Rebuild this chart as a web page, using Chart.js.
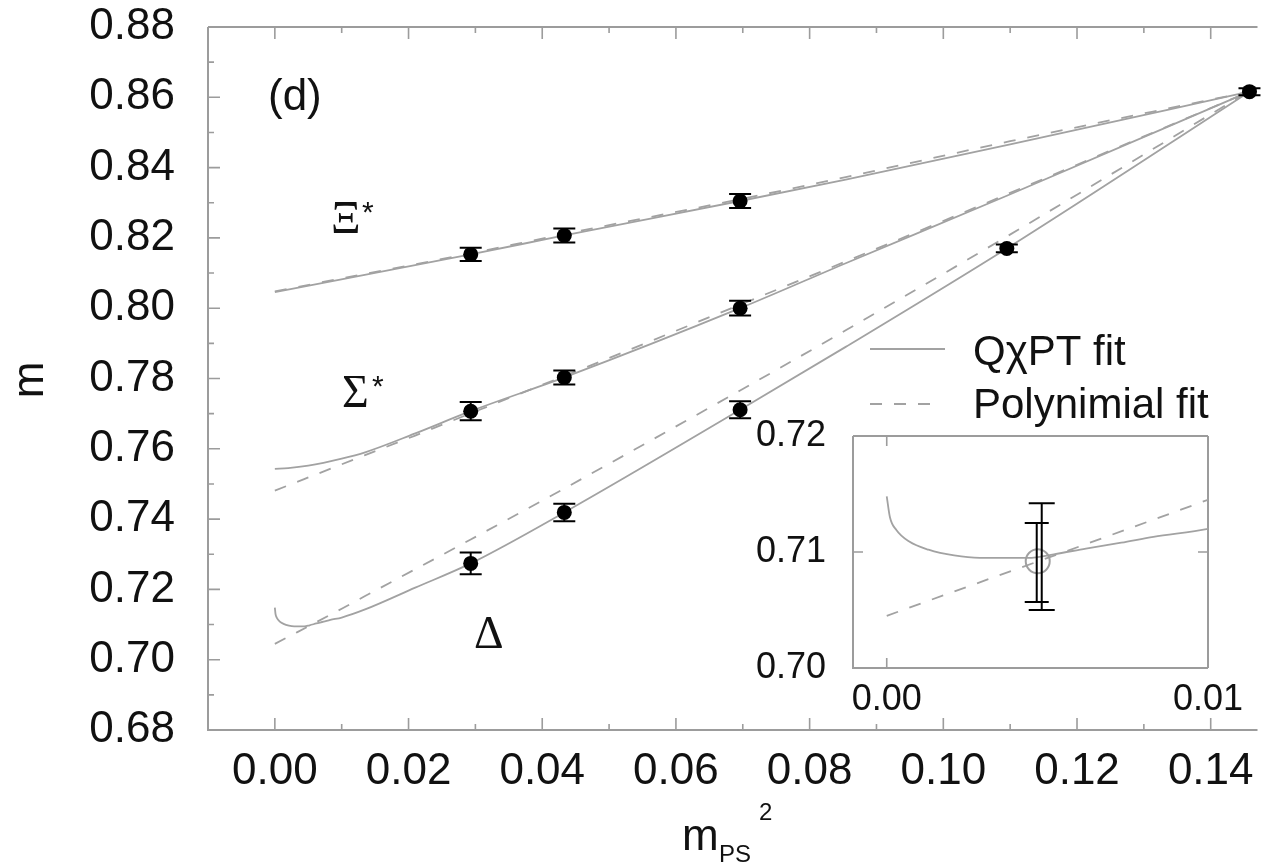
<!DOCTYPE html>
<html>
<head>
<meta charset="utf-8">
<script src="https://cdn.jsdelivr.net/npm/chart.js@4.4.0/dist/chart.umd.min.js"></script>
<style>
  html, body { margin: 0; padding: 0; background: #fff; }
  #wrap { position: relative; width: 1265px; height: 868px; overflow: hidden; }
  #main { position: absolute; left: 0; top: 0; }
  #inset { position: absolute; left: 740px; top: 400px; }
</style>
</head>
<body>
<div id="wrap">
  <canvas id="main" width="1265" height="868"></canvas>
  <canvas id="inset" width="540" height="330"></canvas>
</div>
<script>
// axis ticks
const xTicks = [0.00, 0.02, 0.04, 0.06, 0.08, 0.10, 0.12, 0.14];
const yTicks = [0.68, 0.70, 0.72, 0.74, 0.76, 0.78, 0.80, 0.82, 0.84, 0.86, 0.88];
const insetXTicks = [0.00, 0.01];
const insetYTicks = [0.70, 0.71, 0.72];

// lattice data (m_PS^2, mass, error)
const mps2 = [0.0293, 0.0433, 0.0696];
const xiStar = [0.8153, 0.8207, 0.8305];
const xiStarErr = [0.0019, 0.0020, 0.0020];
const sigmaStar = [0.7707, 0.7803, 0.8000];
const sigmaStarErr = [0.0026, 0.0020, 0.0021];
const deltaX = [0.0293, 0.0433, 0.0696, 0.1095];
const delta = [0.7274, 0.7419, 0.7711, 0.8170];
const deltaErr = [0.0031, 0.0025, 0.0024, 0.0011];
const symX = [0.1458];
const sym = [0.8616];
const symErr = [0.0010];

// fit curves
const xiFitX = [0.0, 0.0293, 0.0433, 0.0696, 0.0854, 0.1100, 0.1458];
const xiQchpt = [0.8046, 0.8153, 0.8207, 0.8305, 0.8366, 0.8466, 0.8616];
const xiPoly = [0.8048, 0.8156, 0.8211, 0.8310, 0.8373, 0.8475, 0.8616];

const sigmaQchptX = [0.0, 0.002, 0.005, 0.010, 0.0135, 0.0209, 0.0293, 0.0433, 0.0696, 0.0854, 0.1095, 0.1458];
const sigmaQchpt = [0.7543, 0.7545, 0.7552, 0.7572, 0.7590, 0.7643, 0.7707, 0.7803, 0.8000, 0.8128, 0.8320, 0.8616];
const sigmaPolyX = [0.0, 0.0135, 0.0209, 0.0293, 0.0433, 0.0696, 0.0854, 0.1095, 0.1458];
const sigmaPoly = [0.7481, 0.7582, 0.7637, 0.7701, 0.7807, 0.8010, 0.8133, 0.8324, 0.8616];

const deltaQchptX = [0.0, 0.0001, 0.0003, 0.0007, 0.0013, 0.0021, 0.0029, 0.0036, 0.0044, 0.0052, 0.0062, 0.0073, 0.0083, 0.0100, 0.0135, 0.0210, 0.0293, 0.0433, 0.0696, 0.0854, 0.1095, 0.1458];
const deltaQchpt = [0.7148, 0.7130, 0.7119, 0.7109, 0.7102, 0.7097, 0.7095, 0.7095, 0.7095, 0.7098, 0.7103, 0.7108, 0.7113, 0.7120, 0.7143, 0.7205, 0.7274, 0.7419, 0.7711, 0.7890, 0.8170, 0.8616];
const deltaPolyX = [0.0, 0.0100, 0.0135, 0.0293, 0.0433, 0.0696, 0.0854, 0.1095, 0.1458];
const deltaPoly = [0.7045, 0.7145, 0.7181, 0.7342, 0.7487, 0.7766, 0.7937, 0.8204, 0.8618];

// extrapolated Delta at the physical point (inset)
const physX = [0.0047];
const physDelta = [0.7092];
const physStatLo = [0.7057], physStatHi = [0.7125];
const physSysLo = [0.7050], physSysHi = [0.7142];

const SANS = "'Liberation Sans', Arial, Helvetica, sans-serif";
const SERIF = "'Liberation Serif', 'DejaVu Serif', serif";
const FRAME = '#9c9c9c';
const CURVE = '#a2a2a2';
const DASH = [12, 12];

const pts = (xs, ys) => xs.map((x, i) => ({ x: x, y: ys[i] }));
const lo = (ys, es) => ys.map((y, i) => y - es[i]);
const hi = (ys, es) => ys.map((y, i) => y + es[i]);

function curve(xs, ys, dashed) {
  return {
    data: pts(xs, ys),
    showLine: true,
    pointRadius: 0,
    borderColor: CURVE,
    borderWidth: 1.8,
    borderDash: dashed ? DASH : [],
    cubicInterpolationMode: 'monotone',
    fill: false
  };
}

function markers(xs, ys, es) {
  return {
    data: pts(xs, ys),
    showLine: false,
    pointRadius: 7.5,
    pointBackgroundColor: '#000',
    pointBorderColor: '#000',
    pointBorderWidth: 0,
    errBars: [{ lo: lo(ys, es), hi: hi(ys, es), dx: 0, cap: 11 }]
  };
}

const errorBarPlugin = {
  id: 'errorBars',
  afterDatasetsDraw(chart) {
    const { ctx } = chart;
    const xs = chart.scales.x, ys = chart.scales.y;
    ctx.save();
    ctx.strokeStyle = '#000';
    ctx.lineWidth = 2;
    chart.data.datasets.forEach(ds => {
      if (!ds.errBars) return;
      ds.data.forEach((p, j) => {
        ds.errBars.forEach(eb => {
          const px = xs.getPixelForValue(p.x) + eb.dx;
          const top = ys.getPixelForValue(eb.hi[j]);
          const bot = ys.getPixelForValue(eb.lo[j]);
          ctx.beginPath();
          ctx.moveTo(px, top); ctx.lineTo(px, bot);
          ctx.moveTo(px - eb.cap, top); ctx.lineTo(px + eb.cap, top);
          ctx.moveTo(px - eb.cap, bot); ctx.lineTo(px + eb.cap, bot);
          ctx.stroke();
        });
      });
    });
    ctx.restore();
  }
};

function framePlugin(opts) {
  return {
    id: 'frame',
    beforeDatasetsDraw(chart) {
      const { ctx, chartArea: a } = chart;
      const xs = chart.scales.x, ys = chart.scales.y;
      ctx.save();
      ctx.strokeStyle = FRAME;
      ctx.lineWidth = 2;
      ctx.beginPath();
      ctx.moveTo(a.left, a.top); ctx.lineTo(a.left, a.bottom); ctx.lineTo(a.right, a.bottom);
      ctx.moveTo(a.left, a.top); ctx.lineTo(a.right, a.top);
      if (opts.right) { ctx.moveTo(a.right, a.top); ctx.lineTo(a.right, a.bottom); }
      ctx.stroke();

      const xt = opts.xTicks.map(v => [v, opts.major]);
      const yt = opts.yTicks.map(v => [v, opts.major]);
      if (opts.minor) {
        for (let i = 0; i < opts.xTicks.length - 1; i++) xt.push([(opts.xTicks[i] + opts.xTicks[i + 1]) / 2, opts.minor]);
        xt.push([opts.xTicks[opts.xTicks.length - 1] + (opts.xTicks[1] - opts.xTicks[0]) / 2, opts.minor]);
        for (let i = 0; i < opts.yTicks.length - 1; i++) yt.push([(opts.yTicks[i] + opts.yTicks[i + 1]) / 2, opts.minor]);
      }
      ctx.lineWidth = 1.6;
      ctx.beginPath();
      xt.forEach(([v, len]) => {
        const px = xs.getPixelForValue(v);
        if (px < a.left || px > a.right) return;
        ctx.moveTo(px, a.bottom); ctx.lineTo(px, a.bottom - len);
        ctx.moveTo(px, a.top); ctx.lineTo(px, a.top + len);
      });
      yt.forEach(([v, len]) => {
        const py = ys.getPixelForValue(v);
        ctx.moveTo(a.left, py); ctx.lineTo(a.left + len, py);
        if (opts.right) { ctx.moveTo(a.right, py); ctx.lineTo(a.right - len, py); }
      });
      ctx.stroke();
      ctx.restore();
    }
  };
}

const textPlugin = {
  id: 'texts',
  afterDraw(chart) {
    const { ctx } = chart;
    ctx.save();
    ctx.fillStyle = '#111';
    ctx.textAlign = 'left';
    ctx.textBaseline = 'alphabetic';

    ctx.font = `44px ${SANS}`;
    ctx.fillText('(d)', 268, 110);

    ctx.font = `46px ${SERIF}`;
    ctx.fillText('\u039E', 331, 233);
    ctx.fillText('\u03A3', 342, 407);
    ctx.fillText('\u0394', 474, 648);
    ctx.font = `30px ${SANS}`;
    ctx.fillText('*', 362, 222);
    ctx.fillText('*', 372, 396);

    // legend
    ctx.strokeStyle = CURVE;
    ctx.lineWidth = 1.8;
    ctx.beginPath(); ctx.moveTo(870, 349); ctx.lineTo(945, 349); ctx.stroke();
    ctx.setLineDash(DASH);
    ctx.beginPath(); ctx.moveTo(870, 404); ctx.lineTo(940, 404); ctx.stroke();
    ctx.setLineDash([]);
    ctx.font = `42px ${SANS}`;
    ctx.fillText('Q\u03C7PT fit', 973, 365);
    ctx.fillText('Polynimial fit', 973, 418);

    // axis titles
    ctx.font = `44px ${SANS}`;
    ctx.fillText('m', 682, 850);
    ctx.font = `24px ${SANS}`;
    ctx.fillText('PS', 719, 862);
    ctx.fillText('2', 759, 820);

    ctx.translate(43, 380);
    ctx.rotate(-Math.PI / 2);
    ctx.textAlign = 'center';
    ctx.font = `44px ${SANS}`;
    ctx.fillText('m', 0, 0);
    ctx.restore();
  }
};

function axis(min, max, ticks, size, pad, fitSize, horizontal) {
  return {
    type: 'linear',
    min: min,
    max: max,
    grid: { display: false, drawTicks: false },
    border: { display: false },
    afterBuildTicks: s => { s.ticks = ticks.map(v => ({ value: v })); },
    afterFit: s => {
      if (horizontal) { s.height = fitSize; s.paddingLeft = 0; s.paddingRight = 0; }
      else { s.width = fitSize; s.paddingTop = 0; s.paddingBottom = 0; }
    },
    ticks: {
      font: { family: SANS, size: size },
      color: '#111',
      padding: pad,
      maxRotation: 0,
      autoSkip: false,
      callback: v => v.toFixed(2)
    }
  };
}

new Chart(document.getElementById('main'), {
  type: 'scatter',
  data: {
    datasets: [
      markers(mps2, xiStar, xiStarErr),
      markers(mps2, sigmaStar, sigmaStarErr),
      markers(deltaX, delta, deltaErr),
      markers(symX, sym, symErr),
      curve(xiFitX, xiQchpt, false),
      curve(xiFitX, xiPoly, true),
      curve(sigmaQchptX, sigmaQchpt, false),
      curve(sigmaPolyX, sigmaPoly, true),
      curve(deltaQchptX, deltaQchpt, false),
      curve(deltaPolyX, deltaPoly, true)
    ]
  },
  options: {
    responsive: false,
    animation: false,
    layout: { padding: { top: 27, right: 0, bottom: 0, left: 0 } },
    plugins: { legend: { display: false }, tooltip: { enabled: false } },
    scales: {
      x: axis(-0.01, 0.147, xTicks, 44, 15, 138, true),
      y: axis(0.68, 0.88, yTicks, 44, 33, 208, false)
    }
  },
  plugins: [framePlugin({ xTicks: xTicks, yTicks: yTicks, major: 12, minor: 6 }), errorBarPlugin, textPlugin]
});

new Chart(document.getElementById('inset'), {
  type: 'scatter',
  data: {
    datasets: [
      {
        data: pts(physX, physDelta),
        showLine: false,
        pointRadius: 12,
        pointBackgroundColor: 'rgba(255,255,255,0)',
        pointBorderColor: '#a0a0a0',
        pointBorderWidth: 2,
        errBars: [
          { lo: physStatLo, hi: physStatHi, dx: -1, cap: 12 },
          { lo: physSysLo, hi: physSysHi, dx: 4, cap: 13 }
        ]
      },
      curve(deltaQchptX, deltaQchpt, false),
      curve(deltaPolyX, deltaPoly, true)
    ]
  },
  options: {
    responsive: false,
    animation: false,
    layout: { padding: { top: 36, right: 72, bottom: 0, left: 0 } },
    plugins: { legend: { display: false }, tooltip: { enabled: false } },
    scales: {
      x: axis(-0.00105, 0.01, insetXTicks, 36, 10, 62, true),
      y: axis(0.70, 0.72, insetYTicks, 36, 27, 113, false)
    }
  },
  plugins: [framePlugin({ xTicks: insetXTicks, yTicks: insetYTicks, major: 10, minor: 0, right: true }), errorBarPlugin]
});
</script>
</body>
</html>
